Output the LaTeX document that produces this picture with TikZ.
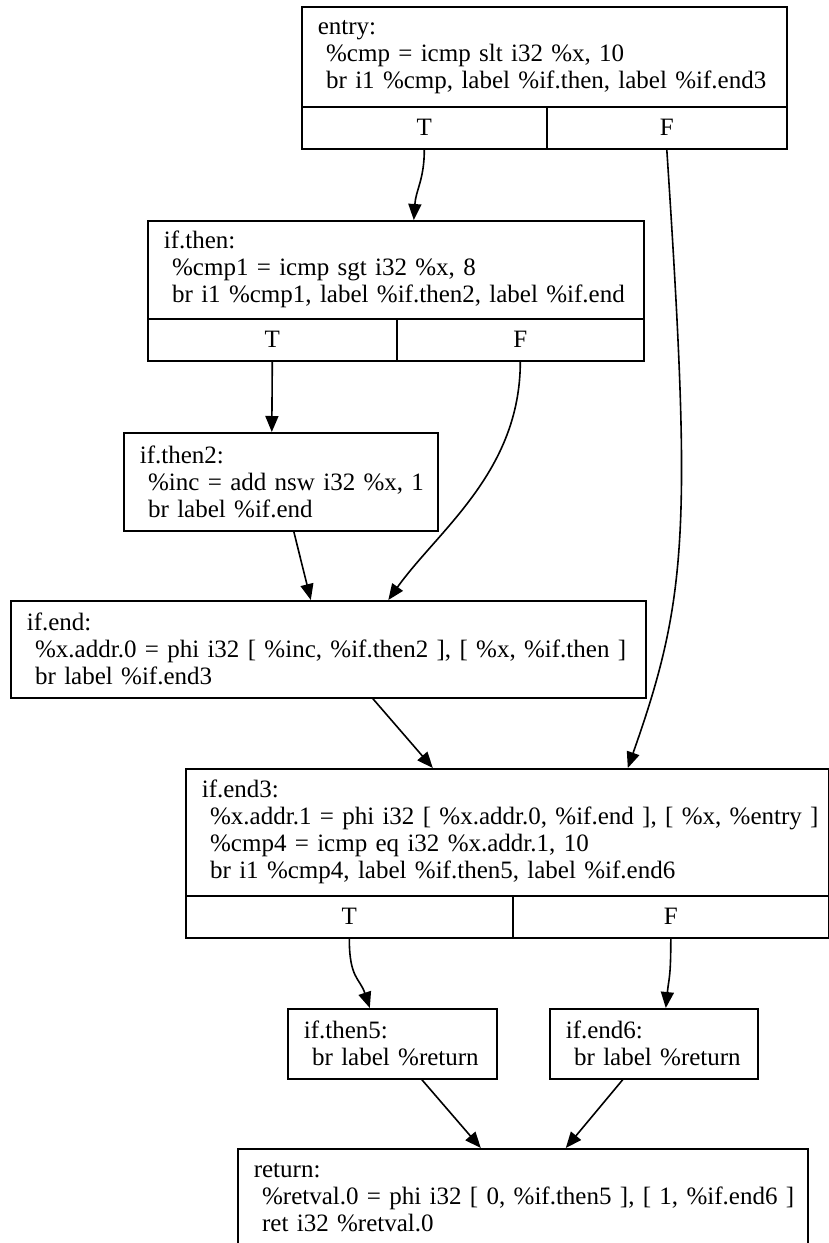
\documentclass[tikz,border=0pt]{standalone}
\usepackage{fontspec}
\setmainfont{Liberation Serif}
\usetikzlibrary{arrows.meta,calc}
\newcommand\bl[1]{\mbox{#1}}
\tikzset{
  blk/.style={draw, line width=0.8pt, anchor=north west, align=left, inner xsep=8pt, inner ysep=0pt,
    font=\fontsize{12.5pt}{13.5pt}\selectfont},
  cell/.style={draw, line width=0.8pt, anchor=north west, inner sep=0pt, minimum height=21pt,
    font=\fontsize{12.5pt}{13.5pt}\selectfont},
  edge/.style={line width=0.8pt, -{Triangle[length=8pt,width=6.5pt]}},
}
\begin{document}
\begin{tikzpicture}[x=0.5pt,y=-0.5pt]
\useasboundingbox (0,0) rectangle (829,1243);
% entry
\node[blk, minimum width=242.5pt, minimum height=50pt, text width=226.5pt] (entry) at (301,6)
  {\bl{entry:}\\\bl{\ \%cmp = icmp slt i32 \%x, 10}\\\bl{\ br i1 \%cmp, label \%if.then, label \%if.end3}};
\node[cell, minimum width=122.5pt] (entryT) at (301,106) {T};
\node[cell, minimum width=120pt] (entryF) at (546,106) {F};
% if.then
\node[blk, minimum width=248pt, minimum height=49pt, text width=232pt] (ifthen) at (147,220)
  {\bl{if.then:}\\\bl{\ \%cmp1 = icmp sgt i32 \%x, 8}\\\bl{\ br i1 \%cmp1, label \%if.then2, label \%if.end}};
\node[cell, minimum width=124.5pt] (ifthenT) at (147,318) {T};
\node[cell, minimum width=123.5pt] (ifthenF) at (396,318) {F};
% if.then2
\node[blk, minimum width=157pt, minimum height=49pt, text width=141pt] (ifthentwo) at (123,432)
  {\bl{if.then2:}\\\bl{\ \%inc = add nsw i32 \%x, 1}\\\bl{\ br label \%if.end}};
% if.end
\node[blk, minimum width=317.5pt, minimum height=48.5pt, text width=301.5pt] (ifend) at (10,600)
  {\bl{if.end:}\\\bl{\ \%x.addr.0 = phi i32 [ \%inc, \%if.then2 ], [ \%x, \%if.then ]}\\\bl{\ br label \%if.end3}};
% if.end3
\node[blk, minimum width=321.5pt, minimum height=63.5pt, text width=305.5pt] (ifendthree) at (185,768)
  {\bl{if.end3:}\\\bl{\ \%x.addr.1 = phi i32 [ \%x.addr.0, \%if.end ], [ \%x, \%entry ]}\\\bl{\ \%cmp4 = icmp eq i32 \%x.addr.1, 10}\\\bl{\ br i1 \%cmp4, label \%if.then5, label \%if.end6}};
\node[cell, minimum width=163.5pt] (ifendthreeT) at (185,895) {T};
\node[cell, minimum width=158pt] (ifendthreeF) at (512,895) {F};
% if.then5
\node[blk, minimum width=104.5pt, minimum height=35pt, text width=88.5pt] (ifthenfive) at (287,1008)
  {\bl{if.then5:}\\\bl{\ br label \%return}};
% if.end6
\node[blk, minimum width=104pt, minimum height=35pt, text width=88pt] (ifendsix) at (549,1008)
  {\bl{if.end6:}\\\bl{\ br label \%return}};
% return
\node[blk, minimum width=285pt, minimum height=49pt, text width=269pt] (ret) at (237,1148)
  {\bl{return:}\\\bl{\ \%retval.0 = phi i32 [ 0, \%if.then5 ], [ 1, \%if.end6 ]}\\\bl{\ ret i32 \%retval.0}};
% edges
\draw[edge] (entryT.south) .. controls +(0,30) and +(2,-30) .. ([xshift=9pt]ifthen.north);
\draw[edge] (entryF.south) .. controls +(25,380) and +(60,-170) .. ([xshift=60.25pt]ifendthree.north);
\draw[edge] (ifthenT.south) -- ([xshift=-4.5pt]ifthentwo.north);
\draw[edge] (ifthenF.south) .. controls +(0,110) and +(50,-70) .. ([xshift=30pt]ifend.north);
\draw[edge] ([xshift=6.5pt]ifthentwo.south) -- ([xshift=-8.75pt]ifend.north);
\draw[edge] ([xshift=22.25pt]ifend.south) -- ([xshift=-37.25pt]ifendthree.north);
\draw[edge] (ifendthreeT.south) .. controls +(0,40) and +(-10,-30) .. ([xshift=-11.25pt]ifthenfive.north);
\draw[edge] (ifendthreeF.south) .. controls +(0,40) and +(3,-30) .. ([xshift=6pt]ifendsix.north);
\draw[edge] ([xshift=14.75pt]ifthenfive.south) -- ([xshift=-21pt]ret.north);
\draw[edge] ([xshift=-15.5pt]ifendsix.south) -- ([xshift=21.5pt]ret.north);
\end{tikzpicture}
\end{document}
